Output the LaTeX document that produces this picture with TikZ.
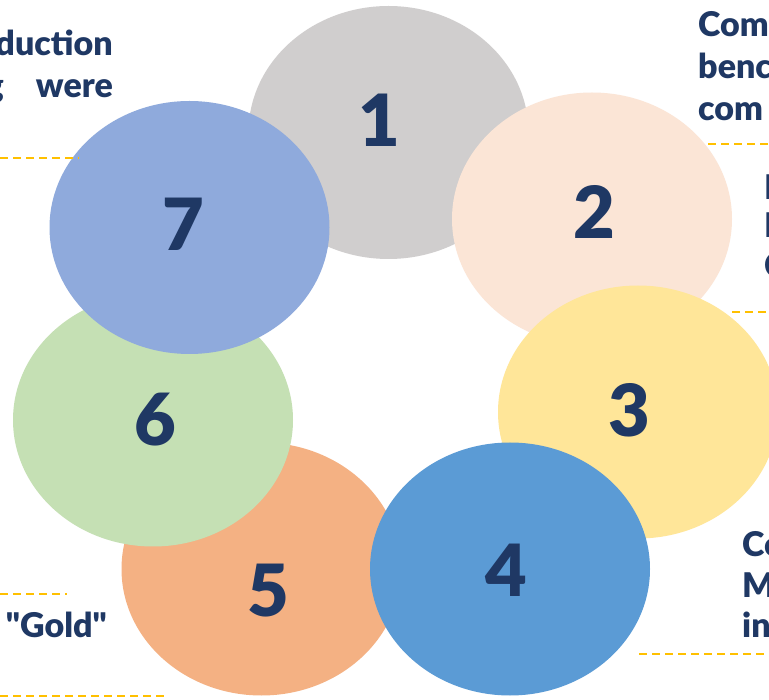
\documentclass[tikz,border=0pt]{standalone}
\usepackage{fontspec}
\setmainfont{Lato}[BoldFont={Lato Black}]
\usetikzlibrary{shapes.geometric}
\usetikzlibrary{positioning}

\definecolor{navy}{HTML}{1F3864}
\definecolor{gold}{HTML}{FFC000}
\definecolor{cgray}{HTML}{D0CECE}
\definecolor{cpeach}{HTML}{FBE5D6}
\definecolor{cyellow}{HTML}{FFE699}
\definecolor{cblue}{HTML}{5B9BD5}
\definecolor{corange}{HTML}{F4B183}
\definecolor{cgreen}{HTML}{C5E0B4}
\definecolor{clav}{HTML}{8FAADC}

\tikzset{blob/.style={ellipse, minimum width=280pt, minimum height=253pt, inner sep=0pt, fill=#1}}
\tikzset{num/.style={text=navy, font=\fontsize{72}{80}\selectfont\bfseries, inner sep=0pt}}
\tikzset{txt/.style={text=navy, font=\fontsize{34}{40}\selectfont\bfseries, inner sep=0pt}}
\tikzset{sep/.style={gold, line width=2pt, dash pattern=on 8pt off 5pt}}

\begin{document}
\begin{tikzpicture}[x=1pt, y=-1pt]
\useasboundingbox (0,0) rectangle (769,700);
\clip (0,0) rectangle (769,700);
\fill[white] (0,0) rectangle (769,700);

\node[blob=cgray] (e1) at (388.5, 132.5) {};
\node[blob=cpeach] (e2) at (592, 219) {};
\node[blob=cyellow] (e3) at (638, 412) {};
\node[blob=corange] (e5) at (261.5, 569) {};
\node[blob=cblue] (e4) at (510, 569) {};
\node[blob=cgreen] (e6) at (153, 420) {};
\node[blob=clav] (e7) at (189.5, 227.5) {};

\node[num] (n1) at (379, 120) {1};
\node[num] (n2) at (594, 212) {2};
\node[num] (n3) at (629, 410) {3};
\node[num] (n4) at (506, 570) {4};
\node[num] (n5) at (268, 591) {5};
\node[num] (n6) at (155, 420) {6};
\node[num] (n7) at (183, 224) {7};

\node[txt, anchor=base east] (l1) at (113, 56) {duction};
\node[txt, anchor=base east] (l2) at (113, 98) {were};
\node[txt, anchor=base east] (l2g) at (4, 98) {g};

\node[txt, anchor=base west] (r1) at (698, 37) {Com};
\node[txt, anchor=base west] (r2) at (698, 79) {benc};
\node[txt, anchor=base west] (r3) at (698, 121) {com};

\node[txt, anchor=base west] (s1) at (764, 200) {I};
\node[txt, anchor=base west] (s2) at (764, 238) {I};
\node[txt, anchor=base west] (s3) at (764, 278) {C};

\node[txt, anchor=base west] (t1) at (742, 557) {Co};
\node[txt, anchor=base west] (t2) at (742, 597) {M};
\node[txt, anchor=base west] (t3) at (742, 637) {in};

\node[txt, anchor=base east] (g1) at (107, 637) {\textquotedbl Gold\textquotedbl};

\coordinate (d1a) at (0, 158);   \coordinate (d1b) at (79, 158);
\coordinate (d2a) at (708, 144); \coordinate (d2b) at (769, 144);
\coordinate (d3a) at (732, 312); \coordinate (d3b) at (769, 312);
\coordinate (d4a) at (639, 654); \coordinate (d4b) at (769, 654);
\coordinate (d5a) at (0, 594);   \coordinate (d5b) at (67, 594);
\coordinate (d6a) at (0, 696);   \coordinate (d6b) at (168, 696);

\draw[sep] (d1a) -- (d1b);
\draw[sep] (d2a) -- (d2b);
\draw[sep] (d3a) -- (d3b);
\draw[sep] (d4a) -- (d4b);
\draw[sep] (d5a) -- (d5b);
\draw[sep] (d6a) -- (d6b);
\end{tikzpicture}
\end{document}
